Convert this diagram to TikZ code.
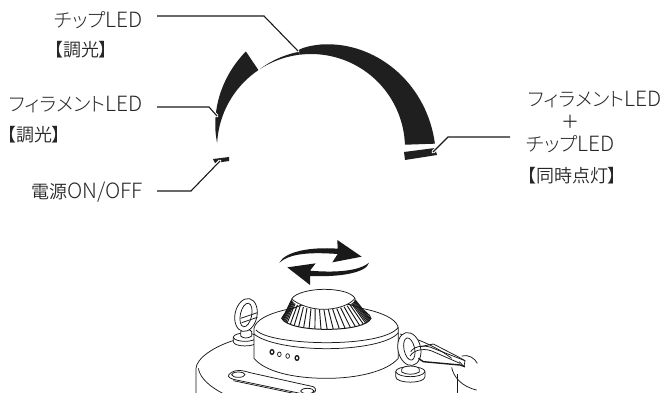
\documentclass[tikz,border=0pt]{standalone}
\usepackage{fontspec}
\setmainfont{Noto Sans CJK JP}[UprightFont=* Light,RawFeature=+palt]
\newfontfamily\kjfont{Noto Sans CJK JP}[UprightFont=* DemiLight,RawFeature=+palt]
\newcommand{\kn}[1]{{\fontsize{19.5}{19.5}\selectfont #1}}
\newcommand{\kj}[1]{{\kjfont\fontsize{18}{18}\selectfont #1}}
\newcommand{\lt}[1]{{\fontsize{21}{21}\selectfont #1}}
\begin{document}
\begin{tikzpicture}[x=1pt,y=-1pt,
  lab/.style={inner sep=0pt,text=black!85},
  lead/.style={line width=1.1pt,black!90,line join=miter},
  halo/.style={line width=3.2pt,white,line cap=round},
  band/.style={fill=black!88,draw=none},
  ln/.style={line width=.75pt,black!90},
  lnw/.style={line width=.75pt,black!90,fill=white},
]
\useasboundingbox (0,0) rectangle (662,392);
% arcs
\fill[band] plot[domain=2:97,samples=40,variable=\t] ({311+(94+5+25*((97-\t)/95)^0.8)*cos(\t)},{148-(94+5+25*((97-\t)/95)^0.8)*sin(\t)})
  -- plot[domain=97:2,samples=40,variable=\t] ({311+94*cos(\t)},{148-94*sin(\t)}) -- cycle;
\fill[band] plot[domain=124:177,samples=30,variable=\t] ({311+(94+22.5*(177-\t)/53)*cos(\t)},{148-(94+22.5*(177-\t)/53)*sin(\t)})
  -- plot[domain=177:124,samples=30,variable=\t] ({311+94*cos(\t)},{148-94*sin(\t)}) -- cycle;
\fill[band] plot[domain=97:123,samples=15,variable=\t] ({311+(94+3*(123-\t)/26)*cos(\t)},{148-(94+3*(123-\t)/26)*sin(\t)})
  -- plot[domain=123:97,samples=15,variable=\t] ({311+94*cos(\t)},{148-94*sin(\t)}) -- cycle;
\fill[band] (213,159) -- (229,157) -- (229,161) -- (215,163) -- cycle;
\fill[band] (404,152) -- (435,148) -- (437,155) -- (405,160) -- cycle;
% labels
\node[lab,anchor=east] (chip) at (143,20) {\kn{チップ}\lt{LED}};
\node[lab,anchor=west] (chipb) at (54,50) {\kj{【調光】}};
\node[lab,anchor=east] (fil) at (143,105) {\kn{フィラメント}\lt{LED}};
\node[lab,anchor=west] (filb) at (7,135) {\kj{【調光】}};
\node[lab,anchor=east] (pow) at (143,192) {\kj{電源}\lt{ON/OFF}};
\node[lab,anchor=east] (rfil) at (662,100) {\kn{フィラメント}\lt{LED}};
\node[lab] (rplus) at (570,122) {\kj{＋}};
\node[lab,anchor=east] (rchip) at (615,144) {\kn{チップ}\lt{LED}};
\node[lab,anchor=west] (rsim) at (527,176) {\kj{【同時点灯】}};
% connectors
\coordinate (chipend) at (298,51);
\coordinate (filend) at (217,116);
\coordinate (powend) at (220,161);
\coordinate (rend) at (433,152);
\draw[halo] (291,44) -- (chipend);
\draw[halo] (212,111) -- (filend);
\draw[halo] (215,166) -- (powend);
\draw[halo] (438,147) -- (rend);
\draw[lead] ([xshift=14pt,yshift=4pt]chip.east) -- (264,16) -- (chipend);
\draw[lead] ([xshift=14pt,yshift=-2pt]fil.east) -- (209,107) -- (filend);
\draw[lead] ([xshift=14pt,yshift=1pt]pow.east) -- (191,191) -- (powend);
\draw[lead] ([xshift=-152pt,yshift=-37pt]rfil.east) -- (448,137) -- (rend);
% lamp
\begin{scope}[shift={(170,230)},x=0.33333pt,y=-0.33333pt]
\clip (0,0) rectangle (960,486);
% rotate arrows
\fill[black!90] (328,98) .. controls (345,65) and (420,50) .. (503,56) -- (502,30) -- (575,80) -- (487,97) -- (503,72) .. controls (420,66) and (360,70) .. (328,98) -- cycle;
\fill[black!90] (597,98) .. controls (590,128) and (510,142) .. (420,138) -- (420,165) -- (352,112) -- (437,100) -- (420,122) .. controls (490,128) and (565,125) .. (597,98) -- cycle;
% base
\draw[ln] (78,490) -- (78,415) .. controls (80,385) and (130,350) .. (195,330);
\draw[ln] (85,415) .. controls (90,445) and (120,470) .. (158,490);
\draw[ln] (690,312) .. controls (740,325) and (800,350) .. (845,385);
\draw[ln] (862,490) -- (862,432);
% plate
\draw[lnw] (182,429) .. controls (195,418) and (215,420) .. (240,428) -- (430,470) .. controls (442,476) and (438,490) .. (420,492) -- (400,492) -- (190,448) .. controls (172,442) and (172,436) .. (182,429) -- cycle;
\draw[ln] (190,452) -- (395,495);
\draw[ln] (205,434) ellipse (20 and 8);
\draw[ln] (412,483) ellipse (20 and 8);
% left eyelet
\draw[lnw] (190,322) .. controls (190,305) and (260,305) .. (260,322) -- (260,335) .. controls (260,352) and (190,352) .. (190,335) -- cycle;
\draw[ln] (190,322) .. controls (195,338) and (255,338) .. (260,322);
\draw[lnw] (212,305) .. controls (212,296) and (245,296) .. (245,305) -- (245,318) .. controls (235,326) and (220,326) .. (212,318) -- cycle;
\draw[lnw,even odd rule,rotate around={-12:(228,255)}] (228,255) ellipse (33 and 50) (228,255) ellipse (17 and 36);
\draw[ln] (212,265) -- (262,248);
\draw[ln] (215,278) -- (262,262);
% cap
\draw[lnw] (252,295) .. controls (262,245) and (400,225) .. (470,225) .. controls (560,225) and (680,250) .. (685,295) -- (685,385) .. controls (650,425) and (560,445) .. (470,445) .. controls (370,445) and (285,425) .. (252,385) -- cycle;
\draw[ln] (258,300) .. controls (280,325) and (380,338) .. (470,338) .. controls (560,338) and (660,325) .. (685,292);
\draw[ln] (252,312) .. controls (285,340) and (380,356) .. (470,356) .. controls (560,356) and (660,340) .. (685,308);
% dots
\foreach \p/\w in {(306,366)/1.3,(328,373)/.7,(353,378)/.7,(381,384)/1.3}
  \draw[black!90,line width=\w pt] \p ellipse (5.5 and 7);
% knob
\draw[lnw,line width=1pt] (335,265) .. controls (345,240) and (400,215) .. (470,215) .. controls (540,215) and (595,240) .. (603,265) .. controls (595,285) and (540,298) .. (470,298) .. controls (400,298) and (345,285) .. (335,265) -- cycle;
\foreach \a in {183,187,...,207,215,223,...,327,333,337,...,357}
  \draw[black!90,line width=.95pt] ({469+132*cos(\a)},{264-33*sin(\a)}) -- ({460+95*cos(\a)},{207-31*sin(\a)});
\draw[lnw] (365,207) .. controls (375,188) and (425,178) .. (460,178) .. controls (510,178) and (545,188) .. (555,205) .. controls (540,225) and (500,238) .. (460,238) .. controls (430,238) and (390,228) .. (365,207) -- cycle;
% right eyelet
\draw[lnw] (677,425) .. controls (677,405) and (765,405) .. (765,425) -- (765,440) .. controls (765,462) and (677,462) .. (677,440) -- cycle;
\draw[ln] (677,425) .. controls (685,445) and (757,445) .. (765,425);
\draw[lnw] (695,418) .. controls (695,405) and (748,405) .. (748,418) -- (748,426) .. controls (735,435) and (708,435) .. (695,426) -- cycle;
\draw[lnw,even odd rule,rotate around={12:(718,357)}] (718,357) ellipse (34 and 50) (718,357) ellipse (16 and 34);
% strap
\draw[ln] (722,365) .. controls (735,345) and (770,345) .. (790,355) -- (885,392);
\draw[ln] (720,378) .. controls (735,355) and (770,355) .. (790,365) -- (870,400);
\draw[line width=1.4pt,black!90] (745,385) -- (760,395) -- (870,405) -- (885,410);
\draw[ln] (750,350) -- (790,342) -- (860,378) -- (885,392) -- (882,410) -- (868,395);
\draw[ln] (875,378) .. controls (895,372) and (915,385) .. (922,400);
\draw[ln] (845,412) .. controls (850,440) and (875,470) .. (920,480);
\end{scope}
\end{tikzpicture}
\end{document}
